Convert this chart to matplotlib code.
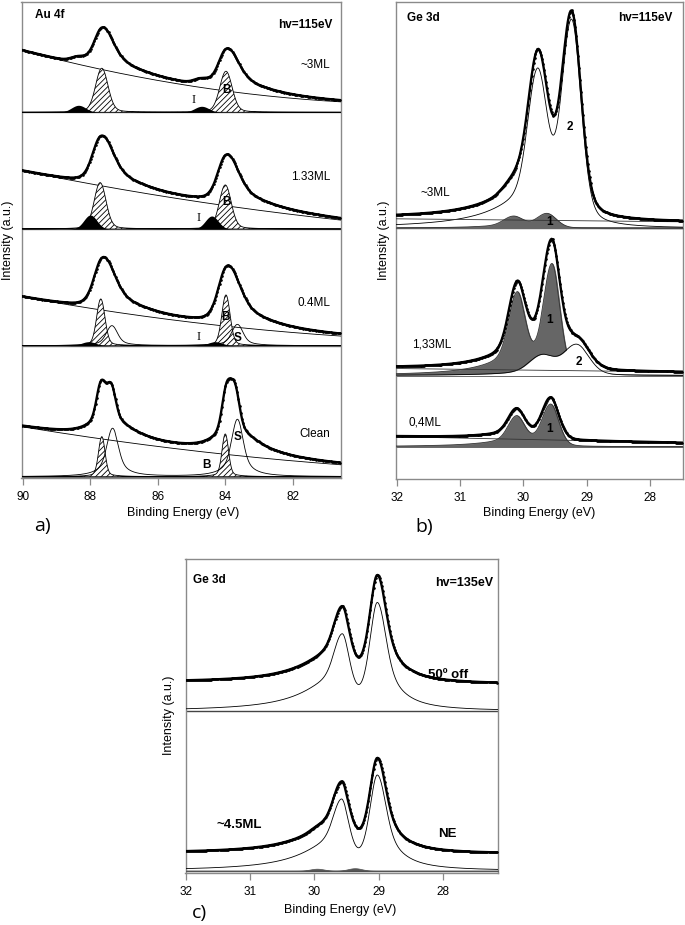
import numpy as np
import matplotlib
matplotlib.use('Agg')
import matplotlib.pyplot as plt

plt.rcParams['font.family'] = ['Liberation Sans', 'DejaVu Sans']
plt.rcParams['hatch.linewidth'] = 0.6

# peak rows: (position eV, height, fwhm, lorentz fraction, hwhm high-BE side, hwhm low-BE side)
# heights in pixels above each spectrum's baseline

# ---------------- a) Au 4f, hv=115eV ----------------
au_labels = ['~3ML', '1.33ML', '0.4ML', 'Clean']
au_bg_energy = [90.03, 85.14, 80.6]
au_bg = [[62, 27, 10.5], [58.3, 29, 9], [49, 24, 9.7], [50, 26.7, 12]]
au_envelope = [
    [(87.66, 37, .55, .35, .35, 1.0), (87.36, 10, .55, .35, .35, 1.0),
     (83.98, 35.7, .55, .35, .35, 1.0), (83.66, 12, .55, .35, .35, 1.0),
     (88.35, 5, .5, 0, .2, .2), (84.70, 5, .5, 0, .2, .2)],
    [(87.71, 42, .55, .35, .35, 1.0), (87.39, 16, .55, .35, .35, 1.0),
     (84.00, 42, .55, .35, .35, 1.0), (83.68, 16, .55, .35, .35, 1.0)],
    [(87.66, 45, .55, .35, .35, 1.0), (87.34, 16, .55, .35, .35, 1.0),
     (83.98, 50, .55, .35, .35, 1.0), (83.64, 20, .55, .35, .35, 1.0)],
    [(87.68, 46.9, .3, .3, .5, .8), (87.38, 42.2, .3, .3, .5, .8),
     (83.96, 53.6, .3, .3, .5, .8), (83.71, 50.9, .3, .3, .5, .8)],
]
au_bulk = [  # hatched "B"
    [(87.66, 44, .42, .15, .3, .3), (83.98, 41, .42, .15, .3, .3)],
    [(87.71, 46.3, .40, .15, .3, .3), (84.00, 44, .40, .15, .3, .3)],
    [(87.69, 46.7, .28, .1, .3, .3), (83.98, 50.7, .28, .1, .3, .3)],
    [(87.66, 40, .22, .1, .3, .3), (84.00, 42.7, .22, .1, .3, .3)],
]
au_interface = [  # black "I"
    [(88.35, 7, .5, 0, .2, .2), (84.70, 6, .5, 0, .2, .2)],
    [(88.00, 14, .45, 0, .2, .2), (84.40, 13, .45, 0, .2, .2)],
    [(88.05, 4, .5, 0, .2, .2), (84.30, 4, .5, 0, .2, .2)],
    [],
]
au_surface = [  # white "S"
    [], [],
    [(87.36, 20, .35, .4, .3, .3), (83.64, 21.3, .35, .4, .3, .3)],
    [(87.34, 48.3, .35, .5, .3, .3), (83.64, 57.3, .35, .5, .3, .3)],
]

# ---------------- b) Ge 3d, hv=115eV ----------------
ge_b_labels = ['~3ML', '1,33ML', '0,4ML']
ge_b_bg = [[9.5, 6.5], [7, 3.5], [10, 4]]  # at 32 eV and 27.5 eV
ge_b_comp1 = [
    [(30.16, 10.6, .35, .2, .6, .2), (29.63, 14.7, .35, .2, .6, .2)],
    [(30.10, 73.8, .30, .2, .5, .15), (29.55, 111, .30, .2, .5, .15)],
    [(30.11, 27.2, .30, .2, .5, .15), (29.57, 42.3, .30, .2, .5, .15)],
]
ge_b_comp2 = [
    [(29.78, 137.5, .34, .2, .6, .25), (29.24, 204.2, .34, .2, .6, .25)],
    [(29.71, 18, .45, .2, .5, .25), (29.16, 30.5, .45, .2, .5, .25)],
    [],
]

# ---------------- c) Ge 3d, hv=135eV ----------------
ge_c_labels = ['50º off', 'NE']
ge_c_bg = [[28.5, 27], [17.5, 17]]  # at 32 eV and 27.15 eV
ge_c_comp = [
    [(29.57, 73.6, .28, .5, .6, .15), (29.02, 106, .28, .5, .15, .3)],
    [(29.58, 68.6, .28, .5, .6, .15), (29.02, 93.4, .28, .5, .15, .3)],
]
ge_c_small = [
    [],
    [(29.96, 2, .25, 0, .1, .1), (29.37, 2.5, .25, 0, .1, .1)],
]


def peaks(e, rows):
    total = np.zeros_like(e)
    for pos, h, fwhm, eta, hi, lo in rows:
        d = e - pos
        gauss = np.exp(-4 * np.log(2) * (d / fwhm) ** 2)
        gam = np.where(d > 0, hi, lo)
        lor = 1 / (1 + (d / gam) ** 2)
        total += h * ((1 - eta) * gauss + eta * lor)
    return total


W, H = 685, 925
fig = plt.figure(figsize=(W / 100, H / 100), dpi=100)
GRAY = '#8a8a8a'


def panel(x0, y0, x1, y1, xlim, ticks):
    ax = fig.add_axes([x0 / W, 1 - y1 / H, (x1 - x0) / W, (y1 - y0) / H])
    ax.set_xlim(*xlim)
    ax.set_ylim(0, y1 - y0)
    ax.set_xticks(ticks)
    ax.set_xticklabels([str(t) for t in ticks])
    ax.set_yticks([])
    for s in ax.spines.values():
        s.set_color(GRAY)
        s.set_linewidth(1.0)
    ax.tick_params(axis='x', direction='out', length=5, width=0.9,
                   color=GRAY, labelsize=8.5, pad=4.5)
    return ax


def draw_data(ax, e, y):
    ax.plot(e, y, color='black', lw=1.7, zorder=6)
    ax.plot(e, y, ls='none', marker='o', ms=1.9, mew=0, color='black', zorder=6)


def figtext(x, y, s, **kw):
    fig.text(x / W, 1 - y / H, s, **kw)


# ---------------- panel a ----------------
ax = panel(21.5, 2, 341, 478, (90.04, 80.57), [90, 88, 86, 84, 82])
au_offsets = [365.7, 249, 132.3, 1.3]
e = np.linspace(80.57, 90.04, 1500)
ed = np.arange(80.6, 90.04, 0.035)
for i in range(4):
    off = au_offsets[i]
    coef = np.polyfit(au_bg_energy, au_bg[i], 2)
    bg = np.polyval(coef, e)
    ax.axhline(off, color='#777777', lw=1.0, zorder=2)
    ax.plot(e, off + bg, color='black', lw=0.6, zorder=3)
    b = peaks(e, au_bulk[i])
    ax.fill_between(e, off, off + b, facecolor='white', edgecolor='black',
                    hatch='//////', lw=0.6, zorder=3)
    if au_surface[i]:
        ax.plot(e, off + peaks(e, au_surface[i]), color='black', lw=0.6, zorder=4)
    if au_interface[i]:
        ax.fill_between(e, off, off + peaks(e, au_interface[i]), color='black',
                        lw=0, zorder=4)
    yd = off + np.polyval(coef, ed) + peaks(ed, au_envelope[i])
    draw_data(ax, ed, yd)

ax.text(89.64, 463, 'Au 4f', fontsize=8.5, fontweight='bold', va='center')
ax.text(80.83, 453, 'hv=115eV', fontsize=8.5, fontweight='bold', va='center', ha='right')
for lab, yy in zip(au_labels, [413, 301, 175.3, 44]):
    ax.text(80.89, yy, lab, fontsize=8.5, va='center', ha='right')
serif = ['Liberation Serif', 'DejaVu Serif']
ax.text(84.95, au_offsets[0] + 12, 'I', family=serif, fontsize=9, ha='center', va='center', zorder=7)
ax.text(83.95, au_offsets[0] + 22, 'B', fontsize=8.5, fontweight='bold', ha='center', va='center', zorder=7)
ax.text(84.80, au_offsets[1] + 10.7, 'I', family=serif, fontsize=9, ha='center', va='center', zorder=7)
ax.text(83.96, au_offsets[1] + 27, 'B', fontsize=8.5, fontweight='bold', ha='center', va='center', zorder=7)
ax.text(84.80, au_offsets[2] + 9, 'I', family=serif, fontsize=9, ha='center', va='center', zorder=7)
ax.text(83.98, au_offsets[2] + 28.3, 'B', fontsize=8.5, fontweight='bold', ha='center', va='center', zorder=7)
ax.text(83.64, au_offsets[2] + 7.3, 'S', fontsize=8.5, fontweight='bold', ha='center', va='center', zorder=7)
ax.text(84.57, au_offsets[3] + 11.7, 'B', fontsize=8.5, fontweight='bold', ha='center', va='center', zorder=7)
ax.text(83.64, au_offsets[3] + 40, 'S', fontsize=8.5, fontweight='bold', ha='center', va='center', zorder=7)

# ---------------- panel b ----------------
ax = panel(395.5, 2, 683, 479.3, (32.02, 27.48), [32, 31, 30, 29, 28])
b_offsets = [251, 103.8, 32.6]
e = np.linspace(27.48, 32.02, 1500)
ed = np.arange(27.5, 32.02, 0.015)
for i in range(3):
    off = b_offsets[i]
    bg = np.interp(e, [27.5, 32], ge_b_bg[i][::-1])
    bgd = np.interp(ed, [27.5, 32], ge_b_bg[i][::-1])
    c1 = peaks(e, ge_b_comp1[i])
    c2 = peaks(e, ge_b_comp2[i])
    ax.axhline(off, color='#555555', lw=1.2, zorder=2)
    ax.fill_between(e, off, off + c1, color='#666666', lw=0.6, zorder=3)
    ax.plot(e, off + c1, color='#333333', lw=0.6, zorder=3)
    if ge_b_comp2[i]:
        if i == 1:
            ax.fill_between(e, off, off + c2, color='white', lw=0, zorder=4)
        ax.plot(e, off + c2, color='black', lw=0.6, zorder=4)
    ax.plot(e, off + bg, color='#333333', lw=0.6, zorder=4)
    yd = off + bgd + peaks(ed, ge_b_comp1[i]) + peaks(ed, ge_b_comp2[i])
    draw_data(ax, ed, yd)

ax.text(31.84, 461, 'Ge 3d', fontsize=8.5, fontweight='bold', va='center')
ax.text(27.64, 461, 'hv=115eV', fontsize=8.5, fontweight='bold', va='center', ha='right')
ax.text(31.63, 286, ge_b_labels[0], fontsize=8.5, va='center')
ax.text(31.76, 135, ge_b_labels[1], fontsize=8.5, va='center')
ax.text(31.82, 57, ge_b_labels[2], fontsize=8.5, va='center')
for x, yy, s in [(29.26, 352, '2'), (29.58, 257, '1'), (29.58, 159, '1'),
                 (29.13, 117, '2'), (29.58, 50, '1')]:
    ax.text(x, yy, s, fontsize=8.5, fontweight='bold', ha='center', va='center', zorder=7)

# ---------------- panel c ----------------
ax = panel(185.5, 559, 498, 873.3, (32.01, 27.14), [32, 31, 30, 29, 28])
c_offsets = [162.3, 2.6]
e = np.linspace(27.14, 32.01, 1500)
ed = np.arange(27.16, 32.01, 0.016)
for i in range(2):
    off = c_offsets[i]
    bgd = np.interp(ed, [27.15, 32], ge_c_bg[i][::-1])
    c = peaks(e, ge_c_comp[i])
    ax.axhline(off, color='#444444', lw=1.0, zorder=2)
    ax.plot(e, off + c, color='black', lw=0.6, zorder=4)
    if ge_c_small[i]:
        ax.fill_between(e, off, off + peaks(e, ge_c_small[i]), color='#555555', lw=0.5, zorder=3)
    yd = off + bgd + peaks(ed, ge_c_comp[i]) + peaks(ed, ge_c_small[i])
    draw_data(ax, ed, yd)

ax.text(31.89, 293, 'Ge 3d', fontsize=8.5, fontweight='bold', va='center')
ax.text(27.22, 290, 'hv=135eV', fontsize=9, fontweight='bold', va='center', ha='right')
ax.text(28.23, 198, ge_c_labels[0], fontsize=9.5, fontweight='bold', va='center')
ax.text(31.52, 48, '~4.5ML', fontsize=9.5, fontweight='bold', va='center')
ax.text(28.07, 39, ge_c_labels[1], fontsize=9.5, fontweight='bold', va='center')

# ---------------- axis titles ----------------
figtext(183, 513, 'Binding Energy (eV)', fontsize=9, ha='center', va='center')
figtext(539, 513, 'Binding Energy (eV)', fontsize=9, ha='center', va='center')
figtext(340, 910, 'Binding Energy (eV)', fontsize=9, ha='center', va='center')
figtext(8, 240, 'Intensity (a.u.)', fontsize=9, rotation=90, ha='center', va='center')
figtext(384, 240, 'Intensity (a.u.)', fontsize=9, rotation=90, ha='center', va='center')
figtext(169, 715, 'Intensity (a.u.)', fontsize=9, rotation=90, ha='center', va='center')
figtext(42, 526, 'a)', fontsize=14, family=['Open Sans', 'DejaVu Sans'], ha='center', va='center')
figtext(424, 527, 'b)', fontsize=14, family=['Open Sans', 'DejaVu Sans'], ha='center', va='center')
figtext(199, 913, 'c)', fontsize=14, family=['Open Sans', 'DejaVu Sans'], ha='center', va='center')

fig.savefig('out.png', dpi=100)
